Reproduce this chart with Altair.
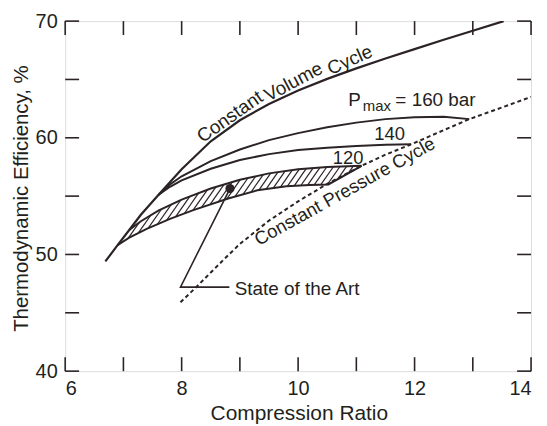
import altair as alt
import pandas as pd
import numpy as np

# ---------------- data ----------------
# Constant volume cycle
cv_x = [6.69, 6.9, 7.1, 7.3, 7.6, 8.0, 8.5, 9.0, 9.5, 10.0, 10.5, 11.0, 11.5, 12.0, 12.5, 13.0, 13.53]
cv_y = [49.4, 50.8, 52.1, 53.4, 55.1, 57.3, 59.7, 61.5, 62.9, 64.05, 65.05, 65.95, 66.8, 67.6, 68.4, 69.18, 70.0]

# Pmax = 160 bar
p160_x = [7.6, 7.8, 8.0, 8.5, 9.0, 9.5, 10.0, 10.5, 11.0, 11.5, 12.0, 12.5, 12.94]
p160_y = [55.1, 56.0, 56.7, 58.0, 59.0, 59.8, 60.4, 60.9, 61.3, 61.6, 61.75, 61.8, 61.6]

# Pmax = 140 bar
p140_x = [7.6, 7.8, 8.0, 8.5, 9.0, 9.5, 10.0, 10.5, 11.0, 11.5, 11.94]
p140_y = [55.1, 55.8, 56.35, 57.35, 58.1, 58.6, 58.95, 59.15, 59.3, 59.4, 59.44]

# Pmax = 120 bar (upper edge of the state-of-the-art band)
p120_x = [7.1, 7.3, 7.6, 8.0, 8.5, 9.0, 9.5, 10.0, 10.5, 11.09]
p120_y = [52.1, 52.85, 53.75, 54.7, 55.65, 56.4, 56.95, 57.3, 57.5, 57.6]

# lower edge of the state-of-the-art band
low_x = [6.9, 7.1, 7.4, 7.8, 8.2, 8.8, 9.3, 9.8, 10.2, 10.52, 11.09]
low_y = [50.8, 51.45, 52.2, 53.05, 53.8, 54.8, 55.5, 55.85, 55.95, 56.0, 57.6]

# Constant pressure cycle (dotted)
cp_x = [7.98, 8.25, 8.5, 8.75, 9.0, 9.5, 10.0, 10.5, 11.09, 11.5, 11.94, 12.5, 12.94, 13.5, 14.0]
cp_y = [45.9, 47.2, 48.45, 49.7, 50.9, 52.9, 54.55, 56.05, 57.6, 58.55, 59.44, 60.65, 61.6, 62.6, 63.5]

# "State of the Art" pointer and marker
dot_x = [8.83]
dot_y = [55.65]
ptr_x = [8.83, 7.98, 8.82]
ptr_y = [55.65, 47.2, 47.2]

# axis ticks / labels
x_labels = [6, 8, 10, 12, 14]
y_labels = [40, 50, 60, 70]
x_ticks = [6, 7, 8, 9, 10, 11, 12, 13, 14]
y_ticks = [40, 45, 50, 55, 60, 65, 70]

# annotations: text, x, y
ann_texts = ["Constant", "Volume", "Cycle", "Constant Pressure Cycle",
             "P", "max", "= 160 bar", "140", "120", "State of the Art"]
ann_x = [8.83, 9.92, 10.89, 10.8, 10.86, 11.11, 11.67, 11.57, 10.86, 8.91]
ann_y = [61.8, 64.8, 66.65, 55.4, 62.76, 62.28, 62.76, 59.78, 57.79, 46.56]

# ---------------- styling ----------------
W, H = 468.5, 352
INK = "#2b2325"
TXT = "#231f20"
FONT = "Liberation Sans"
TICK = 14

xs_scale = alt.Scale(domain=[6, 14], nice=False, zero=False)
ys_scale = alt.Scale(domain=[40, 70], nice=False, zero=False)

X_AX = alt.Axis(values=x_labels, ticks=False, domain=False, grid=False,
                labelFontSize=20, labelPadding=8, labelColor=TXT, labelFont=FONT,
                title="Compression Ratio", titleFontSize=21, titleFontWeight="normal",
                titleColor=TXT, titleFont=FONT, titleBaseline="alphabetic",
                titleX=235, titleY=49)
Y_AX = alt.Axis(values=y_labels, ticks=False, domain=False, grid=False,
                labelFontSize=20, labelPadding=8, labelColor=TXT, labelFont=FONT,
                title="Thermodynamic Efficiency, %", titleFontSize=20.5,
                titleFontWeight="normal", titleColor=TXT, titleFont=FONT,
                titleBaseline="alphabetic", titleAngle=270, titleX=-38, titleY=178)


def X(field="x"):
    return alt.X(f"{field}:Q", scale=xs_scale, axis=X_AX)


def Y(field="y"):
    return alt.Y(f"{field}:Q", scale=ys_scale, axis=Y_AX)


def curve(xv, yv, width=2.0, dash=None):
    df = pd.DataFrame({"x": xv, "y": yv, "o": range(len(xv))})
    kw = dict(color=INK, strokeWidth=width, clip=True)
    if dash:
        kw["strokeDash"] = dash
    return alt.Chart(df).mark_line(**kw).encode(x=X(), y=Y(), order="o:Q")


layers = []

# --- hatching of the state-of-the-art band (derived from the band edges) ---
up_x = [6.9] + p120_x
up_y = [50.8] + p120_y
px_x = W / 8.0
px_y = H / 30.0
tan_t = np.tan(np.deg2rad(55))
grid = np.linspace(6.9, 11.09, 6000)
fu = np.interp(grid, up_x, up_y)
fl = np.interp(grid, low_x, low_y)
u = grid * px_x
c_lo = 6.9 * px_x - 58.0 * px_y / tan_t
c_hi = 11.09 * px_x - 50.0 * px_y / tan_t
hx, hy, hx2, hy2 = [], [], [], []
for c in np.arange(c_lo, c_hi, 6.5):
    yl = (u - c) * tan_t / px_y
    dl = np.sign(yl - fl)
    du = np.sign(yl - fu)
    il = np.where(np.diff(dl) != 0)[0]
    iu = np.where(np.diff(du) != 0)[0]
    if len(il) and len(iu):
        a, b = il[0], iu[0]
        if b > a:
            hx.append(float(grid[a])); hy.append(float(fl[a]))
            hx2.append(float(grid[b])); hy2.append(float(fu[b]))
hatch_df = pd.DataFrame({"x": hx, "y": hy, "x2": hx2, "y2": hy2})
layers.append(alt.Chart(hatch_df).mark_rule(color=INK, strokeWidth=1.2).encode(
    x=X(), y=Y(), x2="x2:Q", y2="y2:Q"))

# --- curves ---
layers.append(curve(cv_x, cv_y, 2.2))
layers.append(curve(p160_x, p160_y, 2.0))
layers.append(curve(p140_x, p140_y, 2.0))
layers.append(curve(p120_x, p120_y, 2.0))
layers.append(curve(low_x, low_y, 2.0))
layers.append(curve(cp_x, cp_y, 2.0, dash=[4, 3]))
layers.append(curve(ptr_x, ptr_y, 1.6))

layers.append(alt.Chart(pd.DataFrame({"x": dot_x, "y": dot_y})).mark_point(
    filled=True, color=INK, size=85, opacity=1).encode(x=X(), y=Y()))

# --- inward ticks on all four sides ---
xt = pd.DataFrame({"x": x_ticks})
yt = pd.DataFrame({"y": y_ticks})
tick_style = dict(color=INK, strokeWidth=1.6)
layers.append(alt.Chart(xt).mark_rule(**tick_style).encode(
    x=X(), y=alt.value(H), y2=alt.value(H - TICK)))
layers.append(alt.Chart(xt).mark_rule(**tick_style).encode(
    x=X(), y=alt.value(0), y2=alt.value(TICK)))
layers.append(alt.Chart(yt).mark_rule(**tick_style).encode(
    y=Y(), x=alt.value(0), x2=alt.value(TICK)))
layers.append(alt.Chart(yt).mark_rule(**tick_style).encode(
    y=Y(), x=alt.value(W), x2=alt.value(W - TICK)))

# --- annotations ---
ann_style = [
    dict(angle=325, fontSize=19, align="center", baseline="middle"),
    dict(angle=332, fontSize=19, align="center", baseline="middle"),
    dict(angle=336, fontSize=19, align="center", baseline="middle"),
    dict(angle=331, fontSize=18.5, align="center", baseline="middle"),
    dict(angle=0, fontSize=19, align="left", baseline="alphabetic"),
    dict(angle=0, fontSize=15, align="left", baseline="alphabetic"),
    dict(angle=0, fontSize=19, align="left", baseline="alphabetic"),
    dict(angle=0, fontSize=18.5, align="center", baseline="alphabetic"),
    dict(angle=0, fontSize=18.5, align="center", baseline="alphabetic"),
    dict(angle=0, fontSize=19, align="left", baseline="alphabetic"),
]
for t, ax_, ay_, st in zip(ann_texts, ann_x, ann_y, ann_style):
    df = pd.DataFrame({"x": [ax_], "y": [ay_], "t": [t]})
    layers.append(alt.Chart(df).mark_text(color=TXT, font=FONT, **st).encode(
        x=X(), y=Y(), text="t:N"))

chart = alt.layer(*layers).properties(
    width=W, height=H,
    autosize=alt.AutoSizeParams(type="none"),
    padding={"left": 57.5, "top": 12, "right": 8, "bottom": 56},
).configure_view(stroke=INK, strokeWidth=2).configure(background="white")

chart.save("out.html", embed_options={"renderer": "svg", "actions": False})
